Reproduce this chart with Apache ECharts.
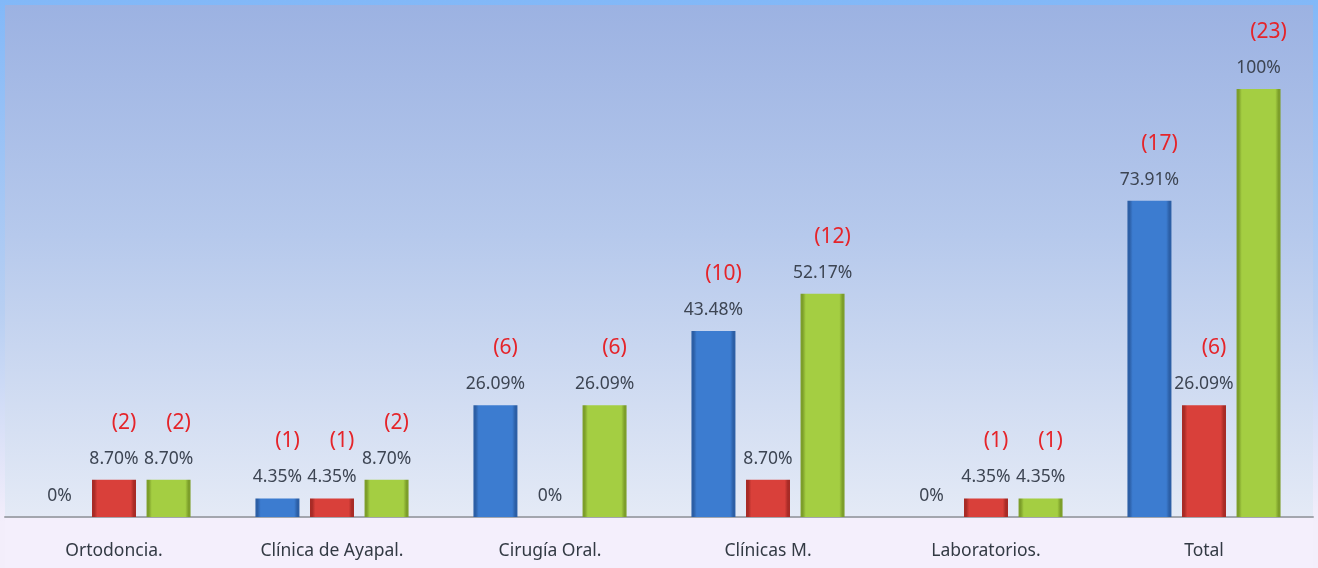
<!DOCTYPE html>
<html>
<head>
<meta charset="utf-8">
<script src="https://cdn.jsdelivr.net/npm/echarts@6/dist/echarts.min.js"></script>
<style>
  html, body { margin: 0; padding: 0; }
  body { width: 1318px; height: 568px; background: linear-gradient(to bottom, #82b8f8 0%, #b8cff2 55%, #f3eefb 92%); }
  #chart { width: 1318px; height: 568px; }
</style>
</head>
<body>
<div id="chart"></div>
<script>
// Categories and series (percent of 23 cases, with case counts)
const categories = ['Ortodoncia.', 'Clínica de Ayapal.', 'Cirugía Oral.', 'Clínicas M.', 'Laboratorios.', 'Total'];
const bluePct  = [0, 4.35, 26.09, 43.48, 0, 73.91];
const blueCnt  = [null, 1, 6, 10, null, 17];
const redPct   = [8.70, 4.35, 0, 8.70, 4.35, 26.09];
const redCnt   = [2, 1, null, null, 1, 6];
const greenPct = [8.70, 8.70, 26.09, 52.17, 4.35, 100];
const greenCnt = [2, 2, 6, 12, 1, 23];

const W = 1318, H = 568;
const axisY = 517;

function fmtPct(v) {
  if (v === 0) return '0%';
  if (v === 100) return '100%';
  return v.toFixed(2) + '%';
}

// flat face with darker bevelled edges
function bevel(dark, main) {
  return {
    type: 'linear', x: 0, y: 0, x2: 1, y2: 0,
    colorStops: [
      { offset: 0, color: dark },
      { offset: 0.05, color: dark },
      { offset: 0.12, color: main },
      { offset: 0.88, color: main },
      { offset: 0.95, color: dark },
      { offset: 1, color: dark }
    ]
  };
}

function makeSeries(name, pct, cnt, dark, main) {
  return {
    name: name,
    type: 'bar',
    barWidth: 44,
    barGap: '24%',
    data: pct,
    itemStyle: {
      color: bevel(dark, main),
      borderWidth: 0
    },
    label: {
      show: true,
      position: 'top',
      distance: 11,
      formatter: function (p) {
        const v = p.value;
        const c = cnt[p.dataIndex];
        const pctTxt = '{p|' + fmtPct(v) + '}';
        if (c === null || c === undefined) return pctTxt;
        return '{c|(' + c + ')}\n' + pctTxt;
      },
      rich: {
        c: { color: '#e5242a', fontSize: 21, fontFamily: 'Noto Sans', lineHeight: 52, padding: [0, 0, 0, 20] },
        p: { color: '#3d4553', fontSize: 17.5, fontFamily: 'Noto Sans', lineHeight: 20 }
      }
    }
  };
}

const chart = echarts.init(document.getElementById('chart'), null, { renderer: 'canvas' });
chart.setOption({
  backgroundColor: 'transparent',
  animation: false,
  graphic: [
    {
      type: 'rect', z: -10, silent: true,
      shape: { x: 5, y: 5, width: W - 10, height: axisY - 5 },
      style: {
        fill: {
          type: 'linear', x: 0, y: 0, x2: 0, y2: 1,
          colorStops: [
            { offset: 0, color: '#9cb2e2' },
            { offset: 0.45, color: '#b6c9ec' },
            { offset: 1, color: '#e4eaf6' }
          ]
        }
      }
    },
    {
      type: 'rect', z: -10, silent: true,
      shape: { x: 5, y: axisY, width: W - 10, height: H - axisY },
      style: { fill: '#f4effc' }
    }
  ],
  grid: { left: 5, right: 5, top: 89, bottom: H - axisY, containLabel: false },
  xAxis: {
    type: 'category',
    data: categories,
    axisLine: { show: true, lineStyle: { color: '#a3a6ae', width: 2 } },
    axisTick: { show: false },
    axisLabel: { color: '#333a44', fontSize: 17.5, fontFamily: 'Noto Sans', margin: 25 }
  },
  yAxis: {
    type: 'value', min: 0, max: 100,
    show: false,
    splitLine: { show: false }
  },
  series: [
    makeSeries('A', bluePct, blueCnt, '#2c5fa6', '#3c7cd0'),
    makeSeries('B', redPct, redCnt, '#a82b26', '#d9403a'),
    makeSeries('C', greenPct, greenCnt, '#7d9f2a', '#a4ce42')
  ]
});
</script>
</body>
</html>
